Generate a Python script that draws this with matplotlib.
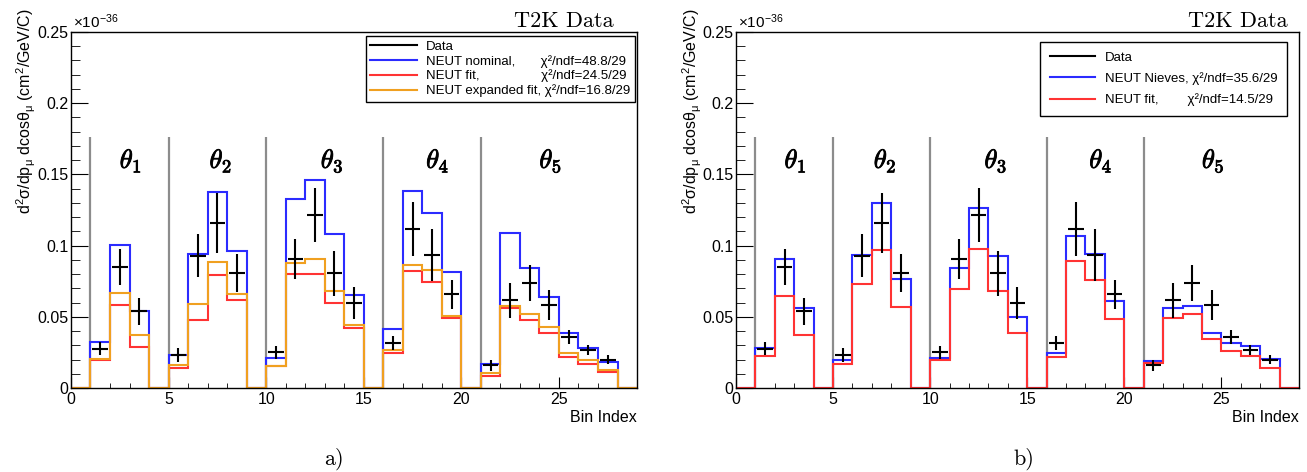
import matplotlib
matplotlib.use('Agg')
import matplotlib.pyplot as plt
import matplotlib.patheffects as pe
from matplotlib.lines import Line2D
from matplotlib.ticker import MultipleLocator, FuncFormatter
import numpy as np

plt.rcParams['font.family'] = ['Liberation Sans', 'DejaVu Sans']
plt.rcParams['mathtext.fontset'] = 'custom'
plt.rcParams['mathtext.rm'] = 'Liberation Sans'
plt.rcParams['mathtext.it'] = 'Liberation Sans:italic'
plt.rcParams['mathtext.bf'] = 'Liberation Sans:bold'

# bin edges of the 29 analysis bins (values in units of 1e-36 cm^2/GeV/c)
bin_edges = np.arange(30)
group_edges = [1, 5, 10, 16, 21]
group_labels = [r'$\theta_1$', r'$\theta_2$', r'$\theta_3$', r'$\theta_4$', r'$\theta_5$']
group_label_x = [2.5, 7.1, 12.8, 18.2, 24.0]

nan = np.nan
data_val = [nan, 0.0275, 0.085, 0.054, nan,
            0.023, 0.093, 0.1156, 0.081, nan,
            0.025, 0.0905, 0.1217, 0.0806, 0.0597, nan,
            0.0315, 0.1116, 0.0935, 0.0658, nan,
            0.016, 0.0616, 0.0738, 0.0583, 0.036, 0.0266, 0.020, nan]
data_err = [nan, 0.0045, 0.0125, 0.0095, nan,
            0.005, 0.015, 0.021, 0.0134, nan,
            0.0047, 0.014, 0.019, 0.0157, 0.011, nan,
            0.005, 0.0188, 0.0185, 0.0103, nan,
            0.0038, 0.0123, 0.0127, 0.0106, 0.005, 0.0035, 0.0035, nan]

neut_nominal = [0, 0.0322, 0.1003, 0.0538, 0,
                0.023, 0.0938, 0.1375, 0.0961, 0,
                0.0212, 0.133, 0.146, 0.108, 0.065, 0,
                0.0411, 0.138, 0.123, 0.0815, 0,
                0.0165, 0.1086, 0.084, 0.064, 0.0388, 0.028, 0.0181, 0]
neut_fit_a = [0, 0.0195, 0.0583, 0.0287, 0,
              0.0141, 0.048, 0.0794, 0.0616, 0,
              0.0153, 0.0804, 0.080, 0.060, 0.0418, 0,
              0.0247, 0.0823, 0.0745, 0.049, 0,
              0.0087, 0.0564, 0.048, 0.0388, 0.0219, 0.017, 0.0113, 0]
neut_expanded = [0, 0.0207, 0.0667, 0.0371, 0,
                 0.016, 0.0592, 0.0888, 0.066, 0,
                 0.0153, 0.088, 0.0907, 0.0684, 0.044, 0,
                 0.027, 0.0862, 0.083, 0.0505, 0,
                 0.0106, 0.0576, 0.0517, 0.043, 0.0247, 0.0195, 0.0129, 0]
neut_nieves = [0, 0.0282, 0.0905, 0.056, 0,
               0.020, 0.0933, 0.130, 0.0768, 0,
               0.0212, 0.0841, 0.1262, 0.0924, 0.0496, 0,
               0.0247, 0.1065, 0.094, 0.061, 0,
               0.0188, 0.056, 0.0576, 0.0383, 0.0317, 0.0294, 0.0204, 0]
neut_fit_b = [0, 0.0223, 0.0644, 0.0374, 0,
              0.0165, 0.0733, 0.0968, 0.0569, 0,
              0.0195, 0.0693, 0.0975, 0.0679, 0.0383, 0,
              0.0219, 0.0893, 0.0759, 0.0486, 0,
              0.0176, 0.0494, 0.0517, 0.0341, 0.0259, 0.0223, 0.0141, 0]

labels_a = ['Data',
            'NEUT nominal,       \u03c7\u00b2/ndf=48.8/29',
            'NEUT fit,                 \u03c7\u00b2/ndf=24.5/29',
            'NEUT expanded fit, \u03c7\u00b2/ndf=16.8/29']
labels_b = ['Data',
            'NEUT Nieves, \u03c7\u00b2/ndf=35.6/29',
            'NEUT fit,        \u03c7\u00b2/ndf=14.5/29']

BLUE = '#2b2bff'
RED = '#ff3333'
ORANGE = '#f0a020'
GREY = '#8c8c8c'


def draw_panel(ax, models, labels, legend_kw, title_x):
    # group separators and angle labels
    ax.vlines(group_edges, 0, 0.1765, color=GREY, lw=1.6, zorder=1)
    for x, lab in zip(group_label_x, group_labels):
        ax.text(x, 0.1545, lab, fontsize=19, math_fontfamily='cm', ha='left', va='baseline',
                path_effects=[pe.withStroke(linewidth=0.6, foreground='black')])

    for values, color in models:
        ax.stairs(values, bin_edges, color=color, lw=1.5, baseline=None, zorder=2)

    centers = 0.5 * (bin_edges[:-1] + bin_edges[1:])
    ax.errorbar(centers, data_val, yerr=data_err, xerr=0.4, fmt='none', ecolor='black',
                elinewidth=1.5, capsize=0, zorder=3)

    ax.set_xlim(0, 29)
    ax.set_ylim(0, 0.25)
    ax.xaxis.set_major_locator(MultipleLocator(5))
    ax.xaxis.set_minor_locator(MultipleLocator(1))
    ax.yaxis.set_major_locator(MultipleLocator(0.05))
    ax.yaxis.set_minor_locator(MultipleLocator(0.01))
    ax.yaxis.set_major_formatter(FuncFormatter(lambda v, p: '%g' % round(v, 3)))
    ax.tick_params(axis='both', which='both', direction='in', labelsize=11.5,
                   top=False, right=False, colors='black')
    ax.tick_params(axis='y', which='major', length=12.5, pad=2)
    ax.tick_params(axis='y', which='minor', length=6.5)
    ax.tick_params(axis='x', which='major', length=7.7, pad=3)
    ax.tick_params(axis='x', which='minor', length=3.9)
    for s in ax.spines.values():
        s.set_linewidth(1.0)

    ax.set_xlabel('Bin Index', fontsize=11.5, ha='right', va='top')
    ax.xaxis.set_label_coords(1.0, -0.063)
    ax.set_ylabel(r'd$^{2}$σ/dp$_{\mathrm{μ}}$ dcosθ$_{\mathrm{μ}}$ (cm$^{2}$/GeV/C)', fontsize=11.5)
    ax.yaxis.label.set(rotation_mode='default', ha='center', va='top')
    ax.yaxis.set_label_coords(-0.078, 1.067)

    ax.text(0.004, 1.004, r'×10$^{-36}$', transform=ax.transAxes, fontsize=11, ha='left', va='bottom')
    ax.text(title_x, 1.014, 'T2K Data', transform=ax.transAxes, family='cmr10', fontsize=16,
            ha='right', va='baseline')

    handles = [Line2D([], [], color='black', lw=1.5)] + \
              [Line2D([], [], color=c, lw=1.5) for _, c in models]
    leg = ax.legend(handles, labels, loc='upper right', fancybox=False,
                    edgecolor='black', framealpha=1, borderaxespad=0, **legend_kw)
    leg.get_frame().set_linewidth(1.0)


fig = plt.figure(figsize=(13.07, 4.72), dpi=100)
ax_a = fig.add_axes([0.0543, 0.178, 0.4331, 0.7542])
ax_b = fig.add_axes([0.5631, 0.178, 0.4308, 0.7542])

draw_panel(ax_a, [(neut_nominal, BLUE), (neut_fit_a, RED), (neut_expanded, ORANGE)], labels_a,
           dict(bbox_to_anchor=(0.996, 0.989), fontsize=9.5, labelspacing=0.15, borderpad=0.35,
                handlelength=3.5, handletextpad=0.7), 0.958)
draw_panel(ax_b, [(neut_nieves, BLUE), (neut_fit_b, RED)], labels_b,
           dict(bbox_to_anchor=(0.979, 0.972), fontsize=9.5, labelspacing=0.62, borderpad=0.75,
                handlelength=3.4, handletextpad=0.75), 0.979)

fig.text(0.2556, 0.015, 'a)', family='cmr10', fontsize=16, ha='center', va='baseline')
fig.text(0.7835, 0.015, 'b)', family='cmr10', fontsize=16, ha='center', va='baseline')

fig.savefig('out.png', dpi=100)
